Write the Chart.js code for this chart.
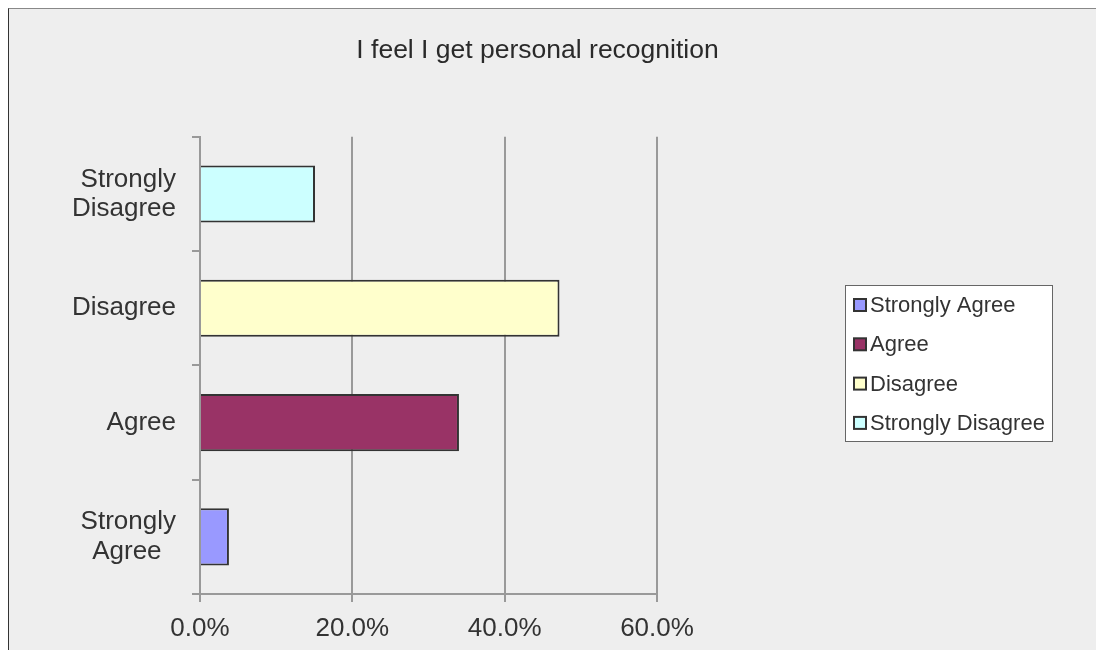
<!DOCTYPE html>
<html>
<head>
<meta charset="utf-8">
<title>I feel I get personal recognition</title>
<script src="https://cdn.jsdelivr.net/npm/chart.js@4.4.1/dist/chart.umd.min.js"></script>
<style>
    body { margin: 0; background: #ffffff; }
    .frame {
        position: absolute; left: 8px; top: 8px; width: 1100px; height: 660px;
        background: #eeeeee; border-left: 1px solid #333333; border-top: 1px solid #888888;
    }
    .wrap { position: absolute; left: 0; top: 0; width: 1096px; height: 650px; }
</style>
</head>
<body>
<div class="frame"></div>
<div class="wrap"><canvas id="recognitionChart" width="1096" height="650"></canvas></div>
<script>
// Survey answers, bottom to top on the axis
const categories = ['Strongly Agree', 'Agree', 'Disagree', 'Strongly Disagree'];
const axisLabels = [['Strongly', 'Agree\u00a0\u00a0'], 'Agree', 'Disagree', ['Strongly', 'Disagree']];
const percentages = [3.8, 34.0, 47.2, 15.1];
const barColors = ['#9999FF', '#993366', '#FFFFCC', '#CCFFFF'];
const xTicks = [0, 20, 40, 60];

const FONT = '"Liberation Sans", Arial, sans-serif';
const TEXT = '#333333';
const AXIS = '#999999';

// Boxed legend on the right, like the spreadsheet one
const legendBox = {
    id: 'legendBox',
    afterDraw(chart) {
        const ctx = chart.ctx;
        const x = 845, y = 285, w = 207, h = 156, rowH = 39.3;
        ctx.save();
        ctx.fillStyle = '#ffffff';
        ctx.fillRect(x, y, w, h);
        ctx.strokeStyle = '#666666';
        ctx.lineWidth = 1;
        ctx.strokeRect(x + 0.5, y + 0.5, w, h);
        ctx.font = '22px ' + FONT;
        ctx.textBaseline = 'middle';
        chart.data.datasets.forEach(function(ds, i) {
            const cy = y + 20 + i * rowH;
            ctx.fillStyle = ds.backgroundColor;
            ctx.fillRect(854, cy - 6, 12, 12);
            ctx.strokeStyle = '#333333';
            ctx.lineWidth = 2;
            ctx.strokeRect(854, cy - 6, 12, 12);
            ctx.fillStyle = TEXT;
            ctx.fillText(ds.label, 870, cy + 1);
        });
        ctx.restore();
    }
};

new Chart(document.getElementById('recognitionChart'), {
    type: 'bar',
    data: {
        labels: axisLabels,
        datasets: categories.map(function(name, i) {
            return {
                label: name,
                data: percentages.map((v, j) => (j === i ? v : null)),
                backgroundColor: barColors[i],
                borderColor: '#333333',
                borderWidth: 2,
                grouped: false,
                categoryPercentage: 0.5,
                barPercentage: 1
            };
        })
    },
    options: {
        indexAxis: 'y',
        responsive: false,
        animation: false,
        layout: { padding: { left: 0, right: 21, top: 0, bottom: 0 } },
        plugins: {
            legend: { display: false },
            tooltip: { enabled: false },
            title: {
                display: true,
                text: 'I feel I get personal recognition',
                color: '#2a2a2a',
                font: { family: FONT, size: 26.5, weight: 'normal' },
                padding: { top: 35, bottom: 70 }
            }
        },
        scales: {
            x: {
                min: xTicks[0],
                max: xTicks[xTicks.length - 1],
                afterBuildTicks: function(axis) {
                    axis.ticks = xTicks.map(v => ({ value: v }));
                },
                afterFit: function(axis) { axis.height = 56; },
                grid: { color: AXIS, lineWidth: 2, tickLength: 8 },
                border: { color: AXIS, width: 2 },
                ticks: {
                    color: TEXT,
                    padding: 11,
                    font: { family: FONT, size: 26 },
                    callback: v => v.toFixed(1) + '%'
                }
            },
            y: {
                reverse: true,
                afterFit: function(axis) { axis.width = 200; },
                grid: { drawOnChartArea: false, color: AXIS, lineWidth: 2, tickLength: 8 },
                border: { color: AXIS, width: 2 },
                ticks: {
                    color: TEXT,
                    padding: 16,
                    font: { family: FONT, size: 26, lineHeight: 1.12 }
                }
            },
            // empty axis that keeps room for the legend
            spacer: {
                type: 'linear',
                position: 'right',
                afterFit: function(axis) { axis.width = 418; },
                grid: { display: false },
                border: { display: false },
                ticks: { display: false }
            }
        }
    },
    plugins: [legendBox]
});
</script>
</body>
</html>
